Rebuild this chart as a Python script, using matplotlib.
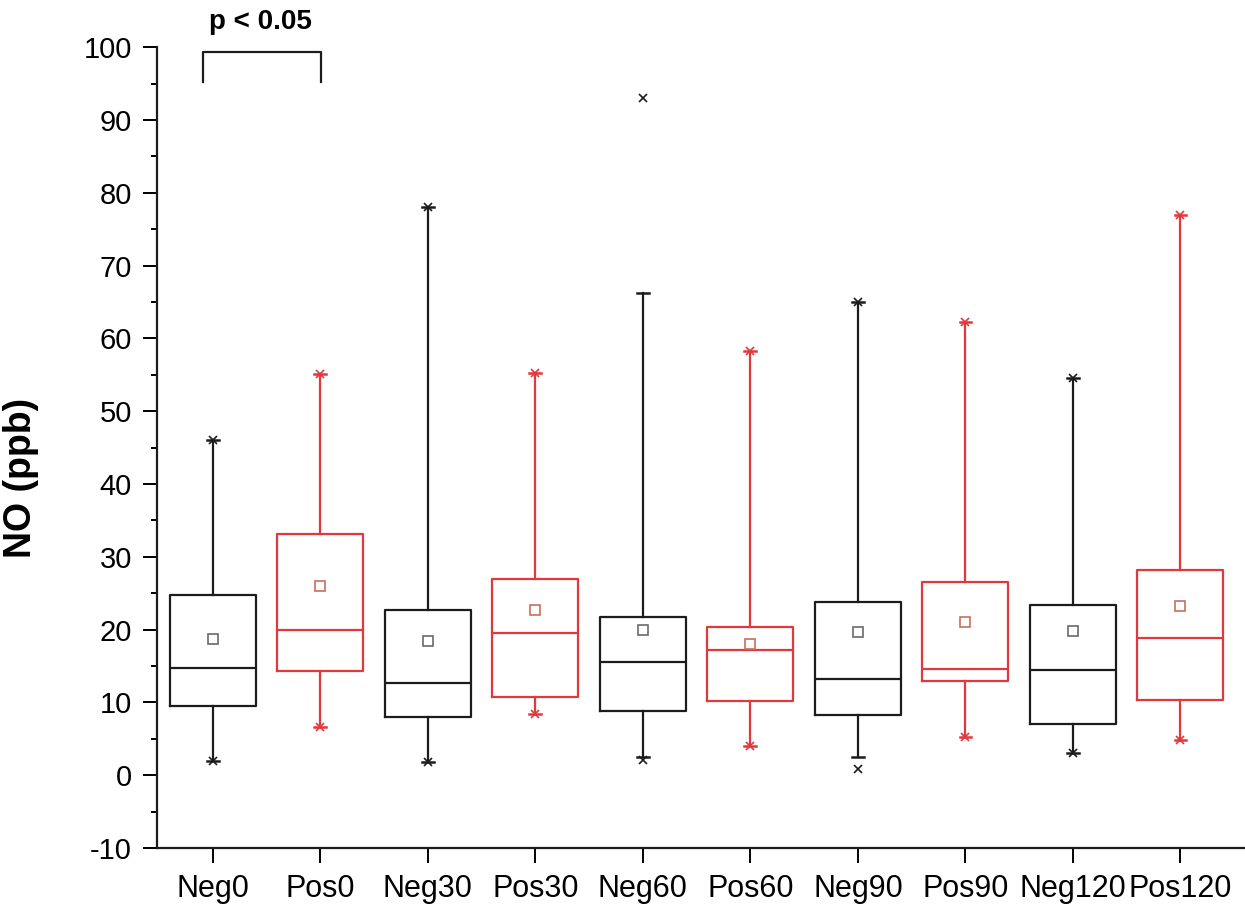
import numpy as np
import matplotlib
matplotlib.use("Agg")
import matplotlib.pyplot as plt

plt.rcParams['font.family'] = ['Liberation Sans', 'DejaVu Sans']
plt.rcParams['axes.unicode_minus'] = False

# groups and box statistics (NO in ppb)
labels = ['Neg0', 'Pos0', 'Neg30', 'Pos30', 'Neg60', 'Pos60', 'Neg90', 'Pos90', 'Neg120', 'Pos120']
q1 = [9.5, 14.3, 8.0, 10.7, 8.8, 10.2, 8.3, 12.9, 7.1, 10.3]
med = [14.7, 20.0, 12.6, 19.5, 15.6, 17.2, 13.2, 14.6, 14.5, 18.9]
q3 = [24.8, 33.1, 22.7, 27.0, 21.7, 20.4, 23.8, 26.5, 23.4, 28.2]
means = [18.7, 26.0, 18.5, 22.7, 19.9, 18.0, 19.7, 21.0, 19.8, 23.2]
whislo = [2.0, 6.6, 1.8, 8.4, 2.5, 4.0, 2.5, 5.3, 3.1, 4.8]
whishi = [46.0, 55.1, 78.0, 55.2, 66.2, 58.3, 65.0, 62.2, 54.6, 77.0]
x_lo = [1.9, 6.6, 1.8, 8.4, 2.1, 4.0, 0.8, 5.3, 3.1, 4.8]
x_hi = [46.0, 55.1, 78.0, 55.2, 93.0, 58.3, 65.0, 62.2, 54.6, 77.0]

black = '#1c1c1c'
red = '#e0383c'
colors = [black if l.startswith('Neg') else red for l in labels]
mean_colors = ['#6a6a6a' if l.startswith('Neg') else '#c8705a' for l in labels]

stats = []
for i, l in enumerate(labels):
    stats.append(dict(label=l, q1=q1[i], med=med[i], q3=q3[i], mean=means[i],
                      whislo=whislo[i], whishi=whishi[i], fliers=[x_lo[i], x_hi[i]]))

fig = plt.figure(figsize=(12.45, 9.06), dpi=100)
ax = fig.add_axes([0.126, 0.064, 0.874, 0.884])

pos = np.arange(1, len(labels) + 1)
bp = ax.bxp(stats, positions=pos, widths=0.8, showmeans=True, showfliers=True,
            capwidths=0.11,
            boxprops=dict(linewidth=1.6),
            whiskerprops=dict(linewidth=1.6),
            capprops=dict(linewidth=1.8),
            medianprops=dict(linewidth=1.6),
            meanprops=dict(marker='s', markersize=7, markerfacecolor='none', markeredgewidth=1.2),
            flierprops=dict(marker='x', markersize=6, markeredgewidth=1.2))

for i, c in enumerate(colors):
    bp['boxes'][i].set_color(c)
    bp['medians'][i].set_color(c)
    for w in bp['whiskers'][2 * i:2 * i + 2]:
        w.set_color(c)
    for cp in bp['caps'][2 * i:2 * i + 2]:
        cp.set_color(c)
    bp['fliers'][i].set_markeredgecolor(c)
    bp['means'][i].set_markeredgecolor(mean_colors[i])

ax.set_xlim(0.48, 10.6)
ax.set_ylim(-10, 100)
ax.set_yticks(np.arange(-10, 101, 10))
ax.set_yticks(np.arange(-5, 100, 10), minor=True)
ax.set_xticks(pos)
ax.set_xticklabels(labels)

for s in ['top', 'right']:
    ax.spines[s].set_visible(False)
for s in ['left', 'bottom']:
    ax.spines[s].set_linewidth(1.6)
    ax.spines[s].set_color(black)

ax.tick_params(axis='y', which='major', direction='out', length=10, width=1.4, labelsize=21, pad=8)
ax.tick_params(axis='y', which='minor', direction='out', length=4, width=1.4)
ax.tick_params(axis='x', which='major', direction='out', length=11, width=1.4, labelsize=22, pad=8)

ax.set_ylabel('NO (ppb)', fontsize=27, fontweight='bold')
ax.yaxis.set_label_coords(-0.108, 0.462)

# significance bracket between Neg0 and Pos0
br_x = [0.907, 0.907, 2.01, 2.01]
br_y = [95.2, 99.3, 99.3, 95.2]
ax.plot(br_x, br_y, color=black, lw=1.6, clip_on=False)
ax.text(1.44, 103.4, 'p < 0.05', ha='center', va='center', fontsize=20,
        fontweight='bold', clip_on=False)

fig.savefig('out.png', dpi=100)
